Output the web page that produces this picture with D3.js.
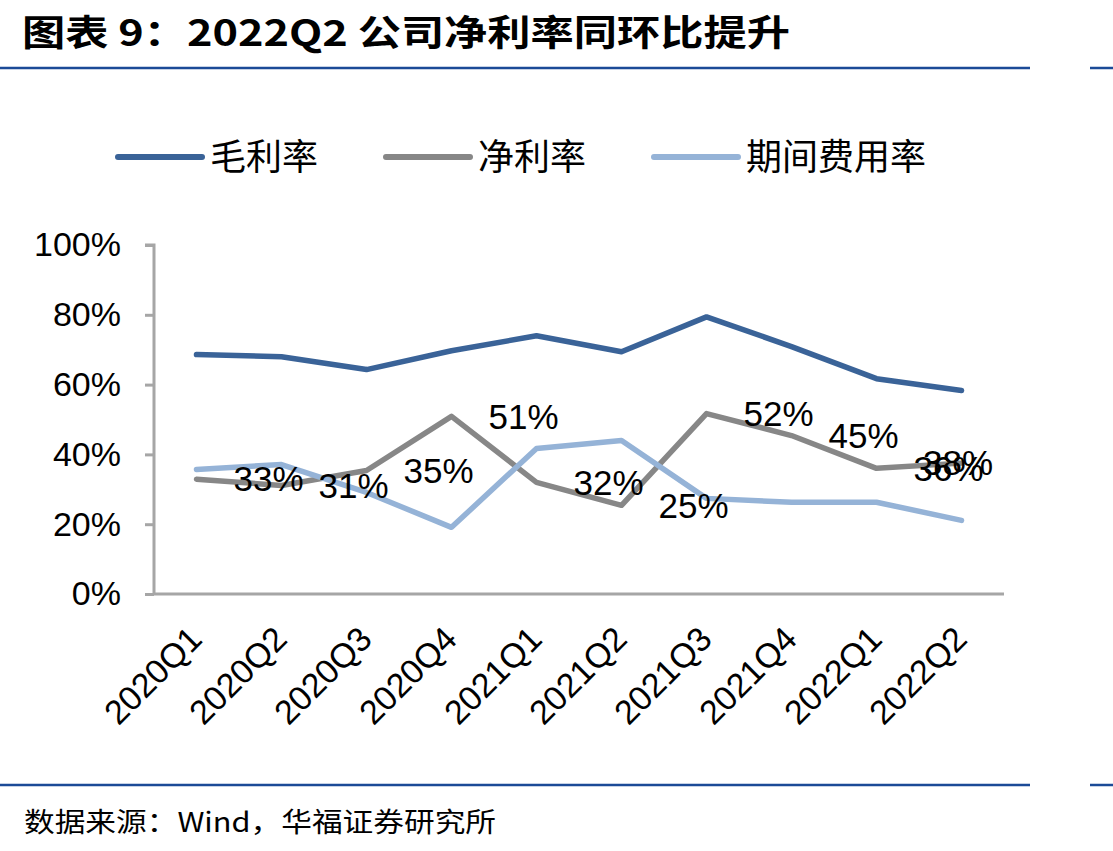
<!DOCTYPE html>
<html>
<head>
<meta charset="utf-8">
<script src="https://cdn.jsdelivr.net/npm/d3@7"></script>
<style>
  body { margin: 0; background: #fff; }
  svg { display: block; }
  text { font-family: "Liberation Sans", Arial, sans-serif; }
  .cjk { font-family: "Noto Sans CJK SC", sans-serif; }
</style>
</head>
<body>
<div id="chart"></div>
<script>
const quarters = ["2020Q1", "2020Q2", "2020Q3", "2020Q4", "2021Q1", "2021Q2", "2021Q3", "2021Q4", "2022Q1", "2022Q2"];
const grossMargin = [68.6, 68.0, 64.3, 69.7, 74.0, 69.4, 79.4, 70.9, 61.7, 58.3];
const netMargin = [32.9, 31.1, 35.4, 50.9, 32.0, 25.4, 51.7, 45.4, 36.0, 37.5];
const expenseRate = [35.7, 37.1, 29.1, 19.1, 41.7, 44.0, 27.4, 26.3, 26.3, 21.1];
const netLabels = ["33%", "31%", "35%", "51%", "32%", "25%", "52%", "45%", "36%", "38%"];
const yTicks = [0, 20, 40, 60, 80, 100];

const seriesList = [
  { name: "毛利率", values: grossMargin, color: "#3a6398" },
  { name: "净利率", values: netMargin, color: "#878787" },
  { name: "期间费用率", values: expenseRate, color: "#95b3d7" }
];

const W = 1113, H = 851;
const plotL = 154, plotR = 1004, plotT = 245, plotB = 594;

const svg = d3.select("#chart").append("svg").attr("width", W).attr("height", H);

// title + rules
svg.append("text")
  .attr("class", "cjk")
  .attr("x", 22).attr("y", 46)
  .attr("font-size", 36).attr("font-weight", "bold")
  .attr("textLength", 768).attr("lengthAdjust", "spacingAndGlyphs")
  .text("图表 9：2022Q2 公司净利率同环比提升");

[68, 785].forEach((yy) => {
  svg.append("line").attr("x1", 0).attr("x2", 1030).attr("y1", yy).attr("y2", yy)
    .attr("stroke", "#1b4a97").attr("stroke-width", 2.5);
  svg.append("line").attr("x1", 1090).attr("x2", 1113).attr("y1", yy).attr("y2", yy)
    .attr("stroke", "#1b4a97").attr("stroke-width", 2.5);
});

svg.append("text")
  .attr("class", "cjk")
  .attr("x", 24).attr("y", 832)
  .attr("font-size", 27)
  .attr("textLength", 472).attr("lengthAdjust", "spacingAndGlyphs")
  .text("数据来源：Wind，华福证券研究所");

// scales
const x = d3.scalePoint().domain(quarters).range([plotL, plotR]).padding(0.5);
const y = d3.scaleLinear().domain([0, 100]).range([plotB, plotT]);

// axes
const yAxis = d3.axisLeft(y).tickValues(yTicks).tickSize(9).tickPadding(24)
  .tickFormat((d) => d + "%");
const gy = svg.append("g").attr("transform", `translate(${plotL},0)`).call(yAxis);
gy.select(".domain").attr("stroke", "#a6a6a6").attr("stroke-width", 3).attr("d", `M-9,${plotT}H0V${plotB}`);
gy.selectAll(".tick line").attr("stroke", "#a6a6a6").attr("stroke-width", 3);
gy.selectAll(".tick text").attr("font-size", 34).attr("fill", "#000")
  .attr("font-family", "Liberation Sans, Arial, sans-serif");

const xAxis = d3.axisBottom(x).tickSize(0).tickPadding(0);
const gx = svg.append("g").attr("transform", `translate(0,${plotB})`).call(xAxis);
gx.select(".domain").attr("stroke", "#a6a6a6").attr("stroke-width", 3).attr("d", `M${plotL},0H${plotR}`);
gx.selectAll(".tick text")
  .attr("font-size", 34).attr("fill", "#000")
  .attr("font-family", "Liberation Sans, Arial, sans-serif")
  .attr("text-anchor", "end")
  .attr("dy", 0)
  .attr("transform", "translate(7,47) rotate(-45)");

// lines
const line = d3.line().x((d, i) => x(quarters[i])).y((d) => y(d));
seriesList.forEach((s) => {
  svg.append("path")
    .datum(s.values)
    .attr("d", line)
    .attr("fill", "none")
    .attr("stroke", s.color)
    .attr("stroke-width", 5.5)
    .attr("stroke-linejoin", "round")
    .attr("stroke-linecap", "round");
});

// data labels on 净利率, placed to the right of each point
svg.append("g").selectAll("text")
  .data(netMargin)
  .enter()
  .append("text")
  .attr("font-size", 35)
  .attr("dy", "0.35em")
  .attr("x", (d, i) => Math.min(x(quarters[i]) + 37, 995 - 72))
  .attr("y", (d) => y(d))
  .text((d, i) => netLabels[i]);

// legend
const legendX = [116, 384, 652];
const legend = svg.append("g").selectAll("g")
  .data(seriesList)
  .enter()
  .append("g")
  .attr("transform", (d, i) => `translate(${legendX[i]},157)`);
legend.append("line")
  .attr("x1", 2).attr("x2", 86)
  .attr("stroke", (d) => d.color).attr("stroke-width", 6).attr("stroke-linecap", "round");
legend.append("text")
  .attr("class", "cjk")
  .attr("x", 94).attr("dy", "0.36em")
  .attr("font-size", 36)
  .text((d) => d.name);
</script>
</body>
</html>
